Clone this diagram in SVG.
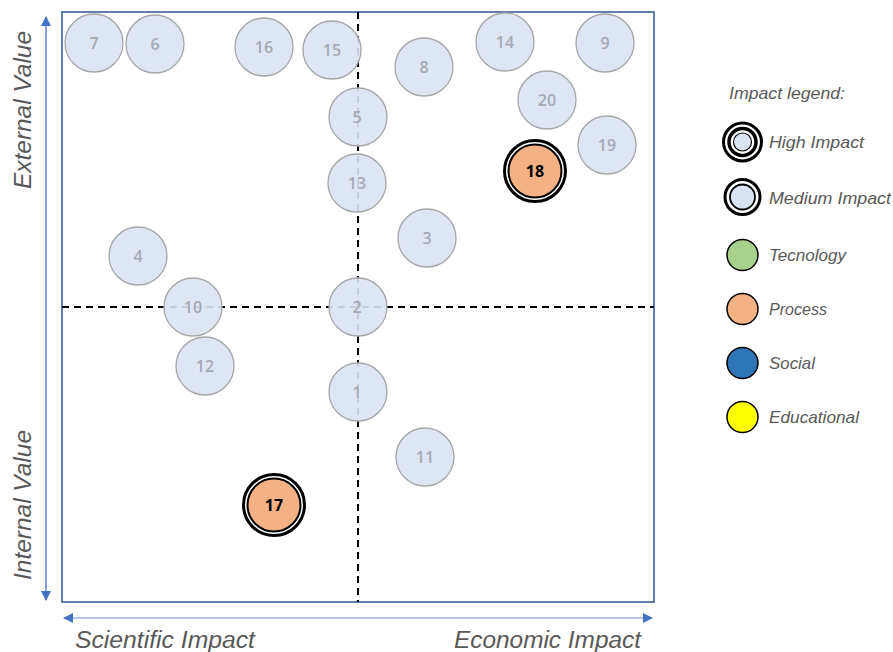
<svg xmlns="http://www.w3.org/2000/svg" width="893" height="652" viewBox="0 0 893 652">
  <defs>
    <marker id="ah" viewBox="0 0 10 10" refX="9" refY="5" markerWidth="10" markerHeight="10" markerUnits="userSpaceOnUse" orient="auto-start-reverse">
      <path d="M0,0 L10,5 L0,10 z" fill="#4472c4"/>
    </marker>
    <style>
      .bg { fill: #ffffff; }
      .frame { fill: none; stroke: #2f5597; stroke-width: 1.5; }
      .dash { stroke: #000; stroke-width: 2; stroke-dasharray: 7 5; }
      .axis { stroke: #4472c4; stroke-width: 1.3; fill: none; }
      .axisH { stroke: #9db4e0; stroke-width: 1.5; fill: none; }
      .axlbl { font-family: "Liberation Sans", Arial, sans-serif; font-style: italic; font-size: 23px; fill: #595959; }
      .pt circle { fill: #dae3f3; fill-opacity: 0.9; stroke: #a6a6a6; stroke-width: 1.3; }
      .pt text { font-family: "Open Sans", "Liberation Sans", sans-serif; font-weight: 600; font-size: 16px; fill: #a5a9b2; text-anchor: middle; }
      .hi .ring { fill: #ffffff; stroke: #000; stroke-width: 3; }
      .hi .core { fill: #f4b183; stroke: #000; stroke-width: 2; }
      .hi text { font-family: "Open Sans", "Liberation Sans", sans-serif; font-weight: 700; font-size: 16px; fill: #000; text-anchor: middle; }
      .lg text { font-family: "Liberation Sans", Arial, sans-serif; font-style: italic; font-size: 17px; fill: #595959; }
      .lgdot { stroke: #000; stroke-width: 1.5; }
    </style>
  </defs>

  <rect class="bg" x="0" y="0" width="893" height="652"/>

  <!-- quadrant frame and axes -->
  <g id="connectors">
    <rect class="frame" x="62" y="12" width="592" height="590"/>
    <line class="dash" x1="358" y1="12" x2="358" y2="602"/>
    <line class="dash" x1="62" y1="307" x2="654" y2="307"/>
    <line class="axis" x1="46" y1="17" x2="46" y2="600" marker-start="url(#ah)" marker-end="url(#ah)"/>
    <line class="axisH" x1="64" y1="618" x2="652" y2="618"/>
    <path d="M63,618 l10,-5 v10 z M653,618 l-10,-5 v10 z" fill="#4472c4"/>
  </g>

  <!-- axis captions -->
  <text class="axlbl" transform="translate(31,110) rotate(-90)" text-anchor="middle" textLength="158" lengthAdjust="spacingAndGlyphs">External Value</text>
  <text class="axlbl" transform="translate(31,505) rotate(-90)" text-anchor="middle" textLength="150" lengthAdjust="spacingAndGlyphs">Internal Value</text>
  <text class="axlbl" x="75" y="648" textLength="180" lengthAdjust="spacingAndGlyphs">Scientific Impact</text>
  <text class="axlbl" x="454" y="648" textLength="187" lengthAdjust="spacingAndGlyphs">Economic Impact</text>

  <!-- items -->
  <g id="n7" class="pt"><circle cx="94" cy="43" r="29"/><text x="94" y="49">7</text></g>
  <g id="n6" class="pt"><circle cx="155" cy="44" r="29"/><text x="155" y="50">6</text></g>
  <g id="n16" class="pt"><circle cx="264" cy="47" r="29"/><text x="264" y="53">16</text></g>
  <g id="n15" class="pt"><circle cx="332" cy="50" r="29"/><text x="332" y="56">15</text></g>
  <g id="n8" class="pt"><circle cx="424" cy="67" r="29"/><text x="424" y="73">8</text></g>
  <g id="n14" class="pt"><circle cx="505" cy="42" r="29"/><text x="505" y="48">14</text></g>
  <g id="n9" class="pt"><circle cx="605" cy="43" r="29"/><text x="605" y="49">9</text></g>
  <g id="n20" class="pt"><circle cx="547" cy="100" r="29"/><text x="547" y="106">20</text></g>
  <g id="n5" class="pt"><circle cx="358" cy="117" r="29"/><text x="357" y="123">5</text></g>
  <g id="n19" class="pt"><circle cx="607" cy="145" r="29"/><text x="607" y="151">19</text></g>
  <g id="n13" class="pt"><circle cx="357" cy="183" r="29"/><text x="357" y="189">13</text></g>
  <g id="n3" class="pt"><circle cx="427" cy="238" r="29"/><text x="427" y="244">3</text></g>
  <g id="n4" class="pt"><circle cx="138" cy="256" r="29"/><text x="138" y="262">4</text></g>
  <g id="n10" class="pt"><circle cx="193" cy="307" r="29"/><text x="193" y="313">10</text></g>
  <g id="n2" class="pt"><circle cx="358" cy="307" r="29"/><text x="357" y="313">2</text></g>
  <g id="n12" class="pt"><circle cx="205" cy="366" r="29"/><text x="205" y="372">12</text></g>
  <g id="n1" class="pt"><circle cx="358" cy="392" r="29"/><text x="357" y="398">1</text></g>
  <g id="n11" class="pt"><circle cx="425" cy="457" r="29"/><text x="425" y="463">11</text></g>

  <g id="n18" class="hi">
    <circle class="ring" cx="535" cy="171" r="30.5"/>
    <circle class="core" cx="535" cy="171" r="26.5"/>
    <text x="535" y="177">18</text>
  </g>
  <g id="n17" class="hi">
    <circle class="ring" cx="274" cy="505" r="30.5"/>
    <circle class="core" cx="274" cy="505" r="26.5"/>
    <text x="274" y="511">17</text>
  </g>

  <!-- legend -->
  <g id="legend" class="lg">
    <text x="729" y="99" font-size="16" textLength="116" lengthAdjust="spacingAndGlyphs">Impact legend:</text>

    <g id="lg-high">
      <circle cx="742.5" cy="142" r="19" fill="#fff" stroke="#000" stroke-width="3"/>
      <circle cx="742.5" cy="142" r="13.5" fill="#fff" stroke="#000" stroke-width="3.5"/>
      <circle cx="742.5" cy="142" r="9" fill="#dae3f3" stroke="#000" stroke-width="1.2"/>
      <text x="769" y="148" textLength="95" lengthAdjust="spacingAndGlyphs">High Impact</text>
    </g>
    <g id="lg-medium">
      <circle cx="742.5" cy="197" r="17.5" fill="#fff" stroke="#000" stroke-width="3"/>
      <circle cx="742.5" cy="197" r="12.5" fill="#dae3f3" stroke="#000" stroke-width="1.8"/>
      <text x="769" y="204" textLength="122" lengthAdjust="spacingAndGlyphs">Medium Impact</text>
    </g>
    <g id="lg-tech">
      <circle class="lgdot" cx="742.5" cy="255" r="15.5" fill="#a9d18e"/>
      <text x="769" y="261" textLength="77" lengthAdjust="spacingAndGlyphs">Tecnology</text>
    </g>
    <g id="lg-process">
      <circle class="lgdot" cx="742.5" cy="309" r="15.5" fill="#f4b183"/>
      <text x="769" y="315" textLength="58" lengthAdjust="spacingAndGlyphs">Process</text>
    </g>
    <g id="lg-social">
      <circle class="lgdot" cx="742.5" cy="363" r="15.5" fill="#2e75b6"/>
      <text x="769" y="369" textLength="46" lengthAdjust="spacingAndGlyphs">Social</text>
    </g>
    <g id="lg-edu">
      <circle class="lgdot" cx="742.5" cy="417" r="15.5" fill="#ffff00"/>
      <text x="769" y="423" textLength="90" lengthAdjust="spacingAndGlyphs">Educational</text>
    </g>
  </g>
</svg>
